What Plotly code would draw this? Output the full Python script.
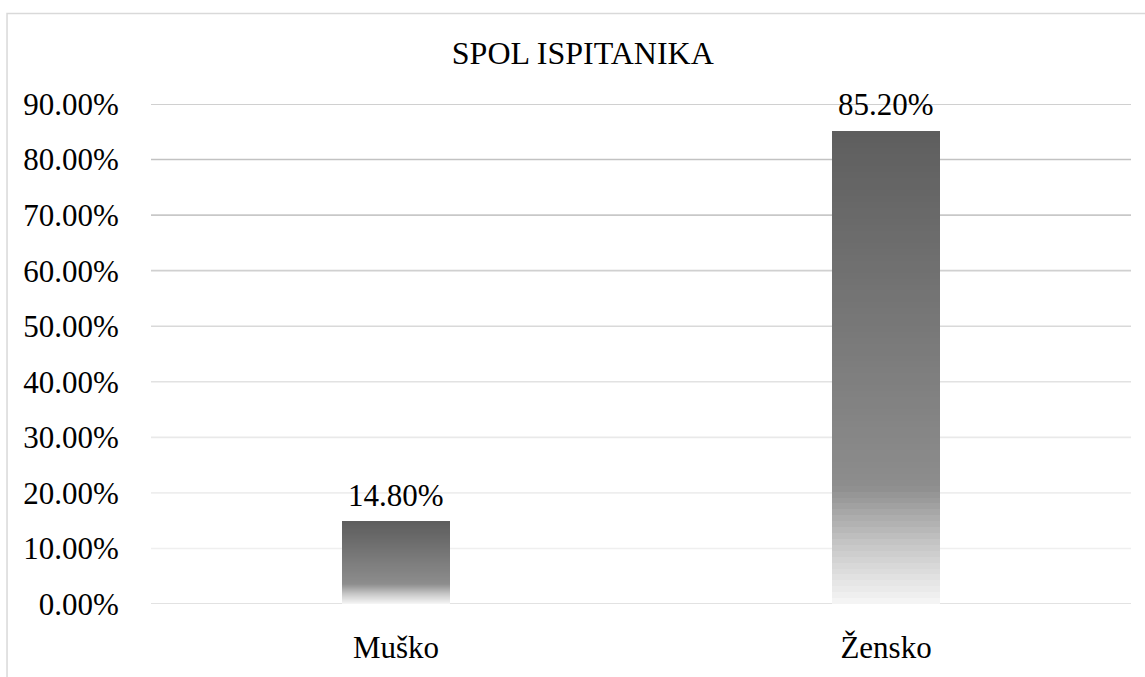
import plotly.graph_objects as go

# ---- data ----
categories = ["Muško", "Žensko"]
values = [14.80, 85.20]
tick_values = [0, 10, 20, 30, 40, 50, 60, 70, 80, 90]
tick_labels = ["0.00%", "10.00%", "20.00%", "30.00%", "40.00%", "50.00%",
               "60.00%", "70.00%", "80.00%", "90.00%"]
title_text = "SPOL ISPITANIKA"

# ---- styles ----
FONT = "Liberation Serif"
BAR_W = 0.22
N_SEG = 80
GRAD = [(0.0, 246), (0.12, 201), (0.25, 141), (1.0, 94)]  # (relative height, gray level)
GRID_GRAYS = {0: "#d9d9d9", 10: "#efefef", 20: "#eeeeee", 30: "#e9e9e9",
              40: "#e2e2e2", 50: "#d9d9d9", 60: "#d0d0d0", 70: "#c8c8c8",
              80: "#c2c2c2", 90: "#c0c0c0"}


def gray_at(f):
    for (p0, g0), (p1, g1) in zip(GRAD[:-1], GRAD[1:]):
        if p0 <= f <= p1:
            t = (f - p0) / (p1 - p0)
            g = round(g0 + (g1 - g0) * t)
            return f"rgb({g},{g},{g})"
    g = GRAD[-1][1]
    return f"rgb({g},{g},{g})"


xpos = list(range(len(categories)))

fig = go.Figure()

# bars drawn as stacked thin slices to give the vertical gradient
for k in range(N_SEG):
    frac = (k + 0.5) / N_SEG
    fig.add_trace(go.Bar(
        x=xpos, y=[v / N_SEG for v in values], width=BAR_W,
        marker=dict(color=gray_at(frac), line=dict(width=0)),
        hoverinfo="skip", showlegend=False))

# gridlines as shapes
for tv in tick_values:
    fig.add_shape(type="line", xref="paper", yref="y", x0=0, x1=1, y0=tv, y1=tv,
                  line=dict(color=GRID_GRAYS[tv], width=1.6), layer="below")

# data labels
for xi, v in zip(xpos, values):
    fig.add_annotation(x=xi, y=v, text=f"{v:.2f}%", showarrow=False, yanchor="bottom",
                       yshift=7, font=dict(family=FONT, size=31, color="#000000"))

# chart frame
fig.add_shape(type="rect", xref="paper", yref="paper",
              x0=-0.1469, x1=1.0286, y0=-0.1535, y1=1.1811,
              line=dict(color="#d9d9d9", width=1.5), fillcolor="rgba(0,0,0,0)", layer="below")

fig.update_layout(
    width=1145, height=677,
    margin=dict(l=151, r=14, t=104, b=65),
    paper_bgcolor="white", plot_bgcolor="white",
    font=dict(family=FONT, size=31, color="#000000"),
    title=dict(text=title_text, x=0.509, xref="container", xanchor="center",
               y=0.9225, yref="container", yanchor="middle",
               font=dict(family=FONT, size=32, color="#000000")),
    xaxis=dict(range=[-0.5, 1.5], tickmode="array", tickvals=xpos, ticktext=categories,
               showgrid=False, zeroline=False, showline=False,
               ticks="outside", ticklen=16, tickcolor="rgba(0,0,0,0)"),
    yaxis=dict(range=[0, 90], tickmode="array", tickvals=tick_values, ticktext=tick_labels,
               showgrid=False, zeroline=False, showline=False,
               ticks="outside", ticklen=25, tickcolor="rgba(0,0,0,0)"),
    barmode="stack",
    bargap=0.78,
)

fig.write_html("out.html",
               config={"displayModeBar": False},
               post_script="document.body.style.margin='0';document.body.style.overflow='hidden';")
